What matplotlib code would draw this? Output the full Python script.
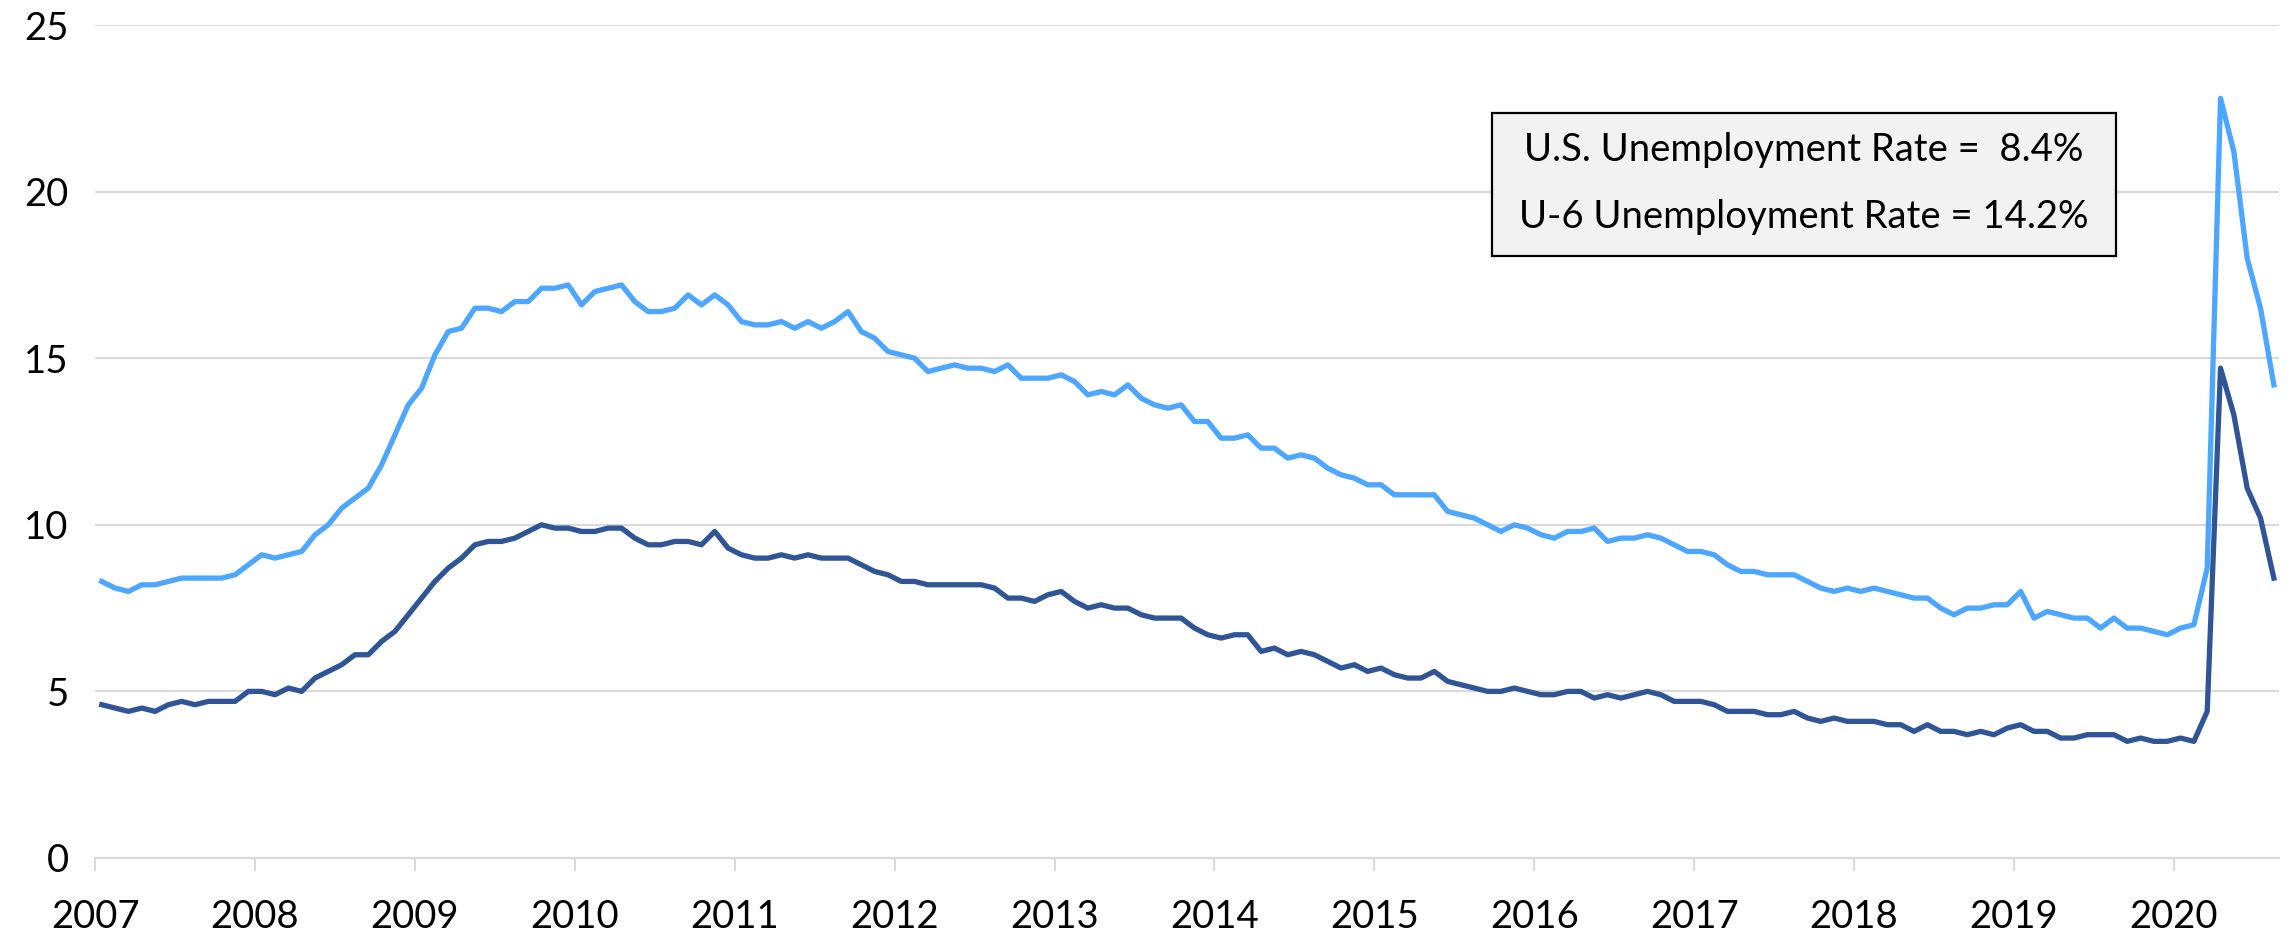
import numpy as np
import matplotlib
matplotlib.use("Agg")
import matplotlib.pyplot as plt
from matplotlib.patches import Rectangle

plt.rcParams['font.family'] = ['Lato', 'DejaVu Sans']

# monthly, Jan 2007 - Aug 2020
years = list(range(2007, 2021))

u3_rate = [
    4.6, 4.5, 4.4, 4.5, 4.4, 4.6, 4.7, 4.6, 4.7, 4.7, 4.7, 5.0,   # 2007
    5.0, 4.9, 5.1, 5.0, 5.4, 5.6, 5.8, 6.1, 6.1, 6.5, 6.8, 7.3,   # 2008
    7.8, 8.3, 8.7, 9.0, 9.4, 9.5, 9.5, 9.6, 9.8, 10.0, 9.9, 9.9,  # 2009
    9.8, 9.8, 9.9, 9.9, 9.6, 9.4, 9.4, 9.5, 9.5, 9.4, 9.8, 9.3,   # 2010
    9.1, 9.0, 9.0, 9.1, 9.0, 9.1, 9.0, 9.0, 9.0, 8.8, 8.6, 8.5,   # 2011
    8.3, 8.3, 8.2, 8.2, 8.2, 8.2, 8.2, 8.1, 7.8, 7.8, 7.7, 7.9,   # 2012
    8.0, 7.7, 7.5, 7.6, 7.5, 7.5, 7.3, 7.2, 7.2, 7.2, 6.9, 6.7,   # 2013
    6.6, 6.7, 6.7, 6.2, 6.3, 6.1, 6.2, 6.1, 5.9, 5.7, 5.8, 5.6,   # 2014
    5.7, 5.5, 5.4, 5.4, 5.6, 5.3, 5.2, 5.1, 5.0, 5.0, 5.1, 5.0,   # 2015
    4.9, 4.9, 5.0, 5.0, 4.8, 4.9, 4.8, 4.9, 5.0, 4.9, 4.7, 4.7,   # 2016
    4.7, 4.6, 4.4, 4.4, 4.4, 4.3, 4.3, 4.4, 4.2, 4.1, 4.2, 4.1,   # 2017
    4.1, 4.1, 4.0, 4.0, 3.8, 4.0, 3.8, 3.8, 3.7, 3.8, 3.7, 3.9,   # 2018
    4.0, 3.8, 3.8, 3.6, 3.6, 3.7, 3.7, 3.7, 3.5, 3.6, 3.5, 3.5,   # 2019
    3.6, 3.5, 4.4, 14.7, 13.3, 11.1, 10.2, 8.4,                   # 2020
]

u6_rate = [
    8.3, 8.1, 8.0, 8.2, 8.2, 8.3, 8.4, 8.4, 8.4, 8.4, 8.5, 8.8,   # 2007
    9.1, 9.0, 9.1, 9.2, 9.7, 10.0, 10.5, 10.8, 11.1, 11.8, 12.7, 13.6,
    14.1, 15.1, 15.8, 15.9, 16.5, 16.5, 16.4, 16.7, 16.7, 17.1, 17.1, 17.2,
    16.6, 17.0, 17.1, 17.2, 16.7, 16.4, 16.4, 16.5, 16.9, 16.6, 16.9, 16.6,
    16.1, 16.0, 16.0, 16.1, 15.9, 16.1, 15.9, 16.1, 16.4, 15.8, 15.6, 15.2,
    15.1, 15.0, 14.6, 14.7, 14.8, 14.7, 14.7, 14.6, 14.8, 14.4, 14.4, 14.4,
    14.5, 14.3, 13.9, 14.0, 13.9, 14.2, 13.8, 13.6, 13.5, 13.6, 13.1, 13.1,
    12.6, 12.6, 12.7, 12.3, 12.3, 12.0, 12.1, 12.0, 11.7, 11.5, 11.4, 11.2,
    11.2, 10.9, 10.9, 10.9, 10.9, 10.4, 10.3, 10.2, 10.0, 9.8, 10.0, 9.9,
    9.7, 9.6, 9.8, 9.8, 9.9, 9.5, 9.6, 9.6, 9.7, 9.6, 9.4, 9.2,
    9.2, 9.1, 8.8, 8.6, 8.6, 8.5, 8.5, 8.5, 8.3, 8.1, 8.0, 8.1,
    8.0, 8.1, 8.0, 7.9, 7.8, 7.8, 7.5, 7.3, 7.5, 7.5, 7.6, 7.6,
    8.0, 7.2, 7.4, 7.3, 7.2, 7.2, 6.9, 7.2, 6.9, 6.9, 6.8, 6.7,
    6.9, 7.0, 8.7, 22.8, 21.2, 18.0, 16.5, 14.2,                   # 2020
]

box_lines = ["U.S. Unemployment Rate =  8.4%", "U-6 Unemployment Rate = 14.2%"]

fig = plt.figure(figsize=(22.92, 9.33), dpi=100)
ax = fig.add_axes([0.0415, 0.0804, 0.9529, 0.8928])

x = np.arange(len(u3_rate))
ax.plot(x, u6_rate, color='#4DA6FF', lw=3.8, solid_joinstyle='round')
ax.plot(x, u3_rate, color='#2F5597', lw=3.8, solid_joinstyle='round')

ax.set_xlim(-0.5, 163.4)
ax.set_ylim(0, 25)
ax.set_yticks(range(0, 26, 5))
ax.set_xticks([-0.5 + 12 * i for i in range(len(years))])
ax.set_xticklabels([str(y) for y in years])
ax.grid(axis='y', color='#D9D9D9', lw=1.5)
ax.set_axisbelow(True)
for s in ['top', 'right', 'left']:
    ax.spines[s].set_visible(False)
ax.spines['bottom'].set_color('#D9D9D9')
ax.spines['bottom'].set_linewidth(1.5)
ax.tick_params(axis='y', length=0, pad=19, labelsize=27.5)
ax.tick_params(axis='x', length=9.5, width=1.5, color='#D9D9D9', pad=20, labelsize=27.5)

# value box
fig.patches.append(Rectangle((0.651, 0.7256), 0.2723, 0.1533, transform=fig.transFigure,
                             facecolor='#F2F2F2', edgecolor='black', lw=1.6, zorder=5))
fig.text(0.7871, 0.8394, box_lines[0], ha='center', va='center', fontsize=27.5, zorder=6)
fig.text(0.7871, 0.7674, box_lines[1], ha='center', va='center', fontsize=27.5, zorder=6)

fig.savefig('out.png', dpi=100)
